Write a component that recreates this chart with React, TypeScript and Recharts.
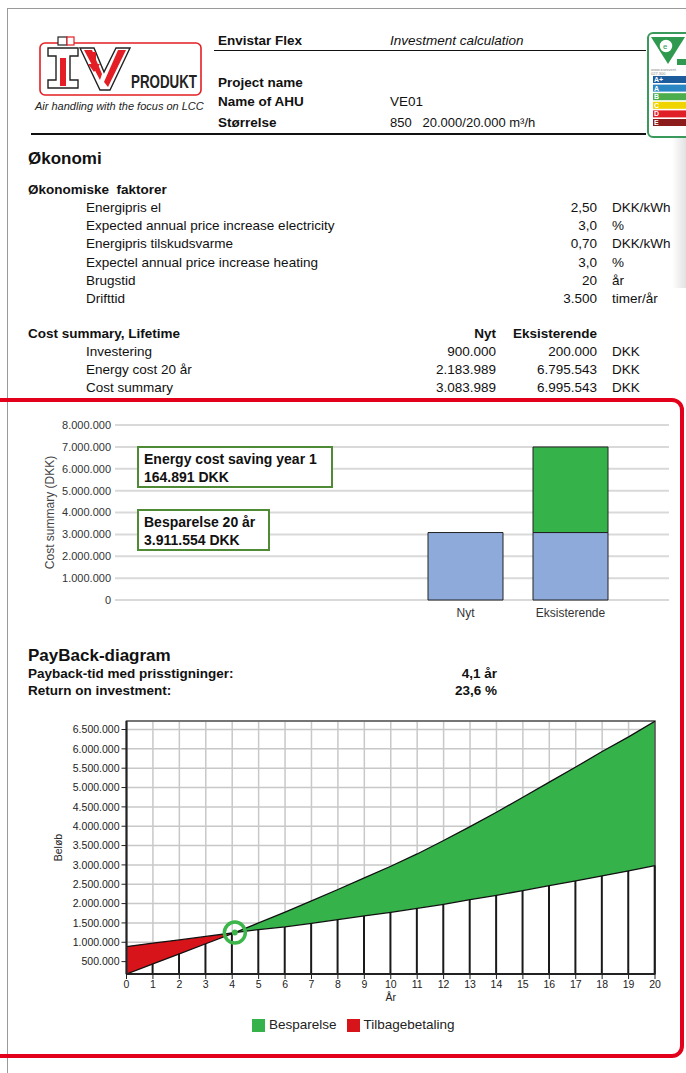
import React from 'react';
import {
  BarChart,
  Bar,
  XAxis,
  YAxis,
  CartesianGrid,
  ComposedChart,
  Area,
  Line,
  ReferenceDot,
  ReferenceArea,
  Legend,
  Label
} from 'recharts';

// --- cost summary bar chart ---
const COST_CATEGORIES = ['Nyt', 'Eksisterende'];
const COST_BASE = [3083989, 3083989];
const COST_SAVING = [null, 3911554];
const COST_TICKS = [0, 1000000, 2000000, 3000000, 4000000, 5000000, 6000000, 7000000, 8000000];

// --- payback diagram ---
const PAYBACK_YEARS = [0, 1, 2, 3, 4, 4.1, 5, 6, 7, 8, 9, 10, 11, 12, 13, 14, 15, 16, 17, 18, 19, 20];
const NYT_CUMULATIVE = [
  890000, 980000, 1060000, 1150000, 1240000, 1250000, 1328000, 1400000, 1490000, 1586000, 1680000,
  1775000, 1879000, 1982000, 2100000, 2215000, 2336000, 2466000, 2585000, 2714000, 2843000, 2983000
];
const EKS_CUMULATIVE = [
  180000, 440000, 700000, 962000, 1225000, 1250000, 1500000, 1780000, 2070000, 2365000, 2665000,
  2965000, 3283000, 3630000, 3990000, 4360000, 4750000, 5140000, 5530000, 5930000, 6310000, 6715000
];
const PAYBACK_YEAR = 4.1;
const PAYBACK_VALUE = 1250000;
const PAYBACK_Y_DOMAIN = [180000, 6720000];
const PAYBACK_Y_TICKS = [
  500000, 1000000, 1500000, 2000000, 2500000, 3000000, 3500000, 4000000, 4500000, 5000000, 5500000,
  6000000, 6500000
];
const PAYBACK_X_TICKS = [0, 1, 2, 3, 4, 5, 6, 7, 8, 9, 10, 11, 12, 13, 14, 15, 16, 17, 18, 19, 20];

// --- text tables ---
const FACTOR_LABELS = [
  'Energipris el',
  'Expected annual price increase electricity',
  'Energipris  tilskudsvarme',
  'Expectel annual price increase heating',
  'Brugstid',
  'Drifttid'
];
const FACTOR_VALUES = ['2,50', '3,0', '0,70', '3,0', '20', '3.500'];
const FACTOR_UNITS = ['DKK/kWh', '%', 'DKK/kWh', '%', 'år', 'timer/år'];
const COST_ROW_LABELS = ['Investering', 'Energy cost 20 år', 'Cost summary'];
const COST_ROW_NYT = ['900.000', '2.183.989', '3.083.989'];
const COST_ROW_EKS = ['200.000', '6.795.543', '6.995.543'];

const GREEN = '#35b34a';
const RED = '#d7141a';
const FONT = '"Liberation Sans", Arial, sans-serif';

const dk = (n: number) => String(n).replace(/\B(?=(\d{3})+(?!\d))/g, '.');

const costData = COST_CATEGORIES.map((name, i) => ({
  name,
  base: COST_BASE[i],
  saving: COST_SAVING[i]
}));

const paybackData = PAYBACK_YEARS.map((year, i) => {
  const nyt = NYT_CUMULATIVE[i];
  const eks = EKS_CUMULATIVE[i];
  const low = Math.min(nyt, eks);
  return {
    year,
    nyt,
    eks,
    floor: low,
    post: Number.isInteger(year) ? low : null,
    red: year <= PAYBACK_YEAR ? [eks, nyt] : null,
    green: year >= PAYBACK_YEAR ? [nyt, eks] : null
  };
});

const abs = (left: number, top: number, extra: React.CSSProperties = {}): React.CSSProperties => ({
  position: 'absolute',
  left,
  top,
  whiteSpace: 'nowrap',
  ...extra
});

const Logo = () => (
  <svg width={200} height={66} style={abs(36, 32)}>
    <rect x={4} y={11} width={161} height={52} rx={5} fill="#fff" stroke="#e31e24" strokeWidth={1.6} />
    <rect x={22} y={5} width={9} height={8} fill="#fff" stroke="#222" strokeWidth={1.2} />
    <rect x={31} y={5} width={7} height={8} fill="#fff" stroke="#e31e24" strokeWidth={1.2} />
    <path d="M12 16 H42 V24 H34 V48 H42 V56 H12 V48 H20 V24 H12 Z" fill="#fff" stroke="#222" strokeWidth={1.4} />
    <rect x={24} y={26} width={6} height={28} fill="#e31e24" />
    <path d="M44 16 H58 L68 40 L80 16 H94 L74 58 H64 Z" fill="#fff" stroke="#222" strokeWidth={1.4} />
    <path d="M48 18 H56 L66 42 L64 48 Z" fill="#e31e24" />
    <path d="M82 18 H90 L72 55 L68 50 Z" fill="#e31e24" />
    <path d="M56 20 V32 H52 L58 40 L64 32 H60 V20 Z" fill="#e31e24" />
    <text x={95} y={56} fontFamily={FONT} fontWeight="bold" fontSize={18} fill="#222" textLength={66} lengthAdjust="spacingAndGlyphs">
      PRODUKT
    </text>
  </svg>
);

const EnergyLabel = () => (
  <div
    style={abs(647, 32, {
      width: 60,
      height: 102,
      border: '2px solid #3a9a5c',
      borderRadius: 6,
      background: '#fff',
      overflow: 'hidden'
    })}
  >
    <svg width={60} height={100}>
      <path d="M2 3 H36 L19 30 Z" fill="#2f9a4f" />
      <circle cx={17} cy={12} r={7} fill="#fff" stroke="#2f9a4f" strokeWidth={1.5} />
      <text x={14} y={15} fontSize={8} fontFamily={FONT} fill="#2f9a4f">e</text>
      <rect x={28} y={25} width={32} height={6} fill="#2f9a4f" />
      <text x={2} y={37} fontSize={4} fill="#888" fontFamily={FONT}>www.eurovent</text>
      <text x={2} y={41} fontSize={4} fill="#888" fontFamily={FONT}>027.300</text>
      {[
        ['A+', '#1d5c9c'],
        ['A', '#2b86c4'],
        ['B', '#4cad4c'],
        ['C', '#f0d400'],
        ['D', '#e01f26'],
        ['E', '#8c1c1c']
      ].map(([t, c], i) => (
        <g key={t}>
          <rect x={4} y={42 + i * 8.6} width={60} height={7} fill={c} />
          <text x={5} y={48 + i * 8.6} fontSize={7} fontWeight="bold" fill="#fff" fontFamily={FONT}>
            {t}
          </text>
        </g>
      ))}
    </svg>
  </div>
);

const rowText: React.CSSProperties = { fontSize: 13.5, color: '#111', lineHeight: '16px' };
const boldText: React.CSSProperties = { fontSize: 13.5, fontWeight: 'bold', color: '#111', lineHeight: '16px' };
const headText: React.CSSProperties = { fontSize: 13.5, lineHeight: '16px', color: '#111' };
const noteBox: React.CSSProperties = {
  height: 36,
  border: '2px solid #4f8a35',
  padding: '2px 0 0 5px',
  fontSize: 14,
  fontWeight: 'bold',
  lineHeight: '18px',
  background: '#fff'
};

const App = () => {
  return (
    <div
      style={{
        position: 'absolute',
        left: 0,
        top: 0,
        width: 686,
        height: 1073,
        overflow: 'hidden',
        background: '#fff',
        fontFamily: FONT,
        color: '#111'
      }}
    >
      {/* page edge */}
      <div style={abs(7, 8, { width: 700, height: 1100, borderLeft: '1px solid #9a9a9a', borderTop: '1px solid #9a9a9a' })} />
      <div style={abs(672, 138, { width: 14, height: 150, background: 'linear-gradient(to right, #ffffff, #e2e2e2)' })} />

      {/* header */}
      <Logo />
      <div style={abs(35, 100, { fontSize: 11, fontStyle: 'italic', color: '#222' })}>Air handling with the focus on LCC</div>
      <div style={abs(218, 33, { ...headText, fontWeight: 'bold' })}>Envistar Flex</div>
      <div style={abs(390, 33, { ...headText, fontStyle: 'italic' })}>Investment calculation</div>
      <div style={abs(214, 50, { width: 432, height: 0, borderTop: '1.5px solid #111' })} />
      <div style={abs(218, 75, { ...headText, fontWeight: 'bold' })}>Project name</div>
      <div style={abs(218, 94, { ...headText, fontWeight: 'bold' })}>Name of AHU</div>
      <div style={abs(390, 94, headText)}>VE01</div>
      <div style={abs(218, 115, { ...headText, fontWeight: 'bold' })}>Størrelse</div>
      <div style={abs(390, 115, { ...headText, fontSize: 13 })}>850&nbsp;&nbsp;&nbsp;20.000/20.000 m³/h</div>
      <div style={abs(31, 133, { width: 615, height: 0, borderTop: '2px solid #111' })} />
      <EnergyLabel />

      {/* economy tables */}
      <div style={abs(28, 149, { fontSize: 17, fontWeight: 'bold', lineHeight: '20px' })}>Økonomi</div>
      <div style={abs(28, 182, boldText)}>Økonomiske&nbsp; faktorer</div>
      {FACTOR_LABELS.map((label, i) => (
        <React.Fragment key={label}>
          <div style={abs(86, 200 + i * 18.2, rowText)}>{label}</div>
          <div style={abs(497, 200 + i * 18.2, { ...rowText, width: 100, textAlign: 'right' })}>{FACTOR_VALUES[i]}</div>
          <div style={abs(612, 200 + i * 18.2, rowText)}>{FACTOR_UNITS[i]}</div>
        </React.Fragment>
      ))}
      <div style={abs(28, 326, boldText)}>Cost summary, Lifetime</div>
      <div style={abs(396, 326, { ...boldText, width: 100, textAlign: 'right' })}>Nyt</div>
      <div style={abs(477, 326, { ...boldText, width: 120, textAlign: 'right' })}>Eksisterende</div>
      {COST_ROW_LABELS.map((label, i) => (
        <React.Fragment key={label}>
          <div style={abs(86, 344 + i * 18.2, rowText)}>{label}</div>
          <div style={abs(396, 344 + i * 18.2, { ...rowText, width: 100, textAlign: 'right' })}>{COST_ROW_NYT[i]}</div>
          <div style={abs(497, 344 + i * 18.2, { ...rowText, width: 100, textAlign: 'right' })}>{COST_ROW_EKS[i]}</div>
          <div style={abs(612, 344 + i * 18.2, rowText)}>DKK</div>
        </React.Fragment>
      ))}

      {/* red frame */}
      <div style={abs(-12, 398, { width: 688, height: 652, border: '4px solid #e2001a', borderRadius: 12 })} />

      {/* cost summary chart */}
      <div style={abs(0, 400)}>
        <BarChart
          width={686}
          height={230}
          data={costData}
          margin={{ top: 25, right: 17, left: 0, bottom: 0 }}
          barSize={75}
        >
          <CartesianGrid vertical={false} stroke="#d9d9d9" strokeWidth={2} />
          <XAxis
            dataKey="name"
            axisLine={false}
            tickLine={false}
            padding={{ left: 298, right: 46 }}
            tick={{ fontSize: 12, fill: '#333', fontFamily: FONT }}
          />
          <YAxis
            width={115}
            domain={[0, 8000000]}
            ticks={COST_TICKS}
            interval={0}
            axisLine={false}
            tickLine={false}
            tickSize={2}
            tickFormatter={dk}
            tick={{ fontSize: 11, fill: '#333', fontFamily: FONT }}
          >
            <Label
              value="Cost summary (DKK)"
              angle={-90}
              position="insideLeft"
              offset={50}
              style={{ textAnchor: 'middle', fontSize: 12, fill: '#444', fontFamily: FONT }}
            />
          </YAxis>
          <Bar dataKey="base" stackId="cost" fill="#8eaadb" stroke="#222" strokeWidth={1} isAnimationActive={false} />
          <Bar dataKey="saving" stackId="cost" fill={GREEN} stroke="#222" strokeWidth={1} isAnimationActive={false} />
        </BarChart>
      </div>
      <div style={abs(137, 446, { ...noteBox, width: 187 })}>
        Energy cost saving year 1
        <br />
        164.891 DKK
      </div>
      <div style={abs(137, 509, { ...noteBox, width: 124 })}>
        Besparelse 20 år
        <br />
        3.911.554 DKK
      </div>

      {/* payback header */}
      <div style={abs(28, 646, { fontSize: 17, fontWeight: 'bold', lineHeight: '20px' })}>PayBack-diagram</div>
      <div style={abs(28, 666, boldText)}>Payback-tid med prisstigninger:</div>
      <div style={abs(397, 666, { ...boldText, width: 100, textAlign: 'right' })}>4,1 år</div>
      <div style={abs(28, 683, boldText)}>Return on investment:</div>
      <div style={abs(397, 683, { ...boldText, width: 100, textAlign: 'right' })}>23,6 %</div>

      {/* payback chart */}
      <div style={abs(0, 711)}>
        <ComposedChart
          width={686}
          height={342}
          data={paybackData}
          margin={{ top: 10, right: 31, left: 0, bottom: 8 }}
        >
          <CartesianGrid stroke="#c8c8c8" strokeWidth={1.5} />
          <XAxis
            dataKey="year"
            type="number"
            domain={[0, 20]}
            ticks={PAYBACK_X_TICKS}
            interval={0}
            tickSize={5}
            axisLine={{ stroke: '#222', strokeWidth: 2 }}
            tickLine={{ stroke: '#222' }}
            tick={{ fontSize: 10.5, fill: '#222', fontFamily: FONT }}
            height={43}
          >
            <Label value="År" position="insideBottom" offset={16} style={{ fontSize: 10.5, fill: '#222', fontFamily: FONT }} />
          </XAxis>
          <YAxis
            type="number"
            width={126.5}
            domain={PAYBACK_Y_DOMAIN}
            ticks={PAYBACK_Y_TICKS}
            interval={0}
            tickSize={5}
            allowDataOverflow
            tickFormatter={dk}
            axisLine={{ stroke: '#222', strokeWidth: 2 }}
            tickLine={{ stroke: '#222' }}
            tick={{ fontSize: 10.5, fill: '#222', fontFamily: FONT }}
          >
            <Label
              value="Beløb"
              angle={-90}
              position="insideLeft"
              offset={58}
              style={{ textAnchor: 'middle', fontSize: 10.5, fill: '#222', fontFamily: FONT }}
            />
          </YAxis>
          <Area dataKey="floor" fill="#fff" fillOpacity={1} stroke="none" legendType="none" isAnimationActive={false} />
          <Area
            dataKey="green"
            name="Besparelse"
            fill={GREEN}
            fillOpacity={1}
            stroke="none"
            legendType="square"
            isAnimationActive={false}
          />
          <Area
            dataKey="red"
            name="Tilbagebetaling"
            fill={RED}
            fillOpacity={1}
            stroke="none"
            legendType="square"
            isAnimationActive={false}
          />
          <Bar dataKey="post" barSize={2} fill="#1a1a1a" legendType="none" isAnimationActive={false} />
          <Line dataKey="nyt" stroke="#111" strokeWidth={1.3} dot={false} legendType="none" isAnimationActive={false} />
          <Line dataKey="eks" stroke="#111" strokeWidth={1.3} dot={false} legendType="none" isAnimationActive={false} />
          <ReferenceArea
            x1={0}
            x2={20}
            y1={PAYBACK_Y_DOMAIN[0]}
            y2={PAYBACK_Y_DOMAIN[1]}
            fill="none"
            stroke="#555"
            strokeWidth={1.5}
          />
          <ReferenceDot x={PAYBACK_YEAR} y={PAYBACK_VALUE} r={10.5} fill="none" stroke="#3cb54a" strokeWidth={3.5} />
          <ReferenceDot x={PAYBACK_YEAR} y={PAYBACK_VALUE} r={3} fill="#3cb54a" stroke="none" />
          <Legend
            height={28}
            iconSize={13}
            wrapperStyle={{ left: 252, width: 'auto', fontSize: 13.5, fontFamily: FONT }}
            formatter={(value: string) => <span style={{ color: '#222' }}>{value}</span>}
          />
        </ComposedChart>
      </div>
    </div>
  );
};

export default App;
